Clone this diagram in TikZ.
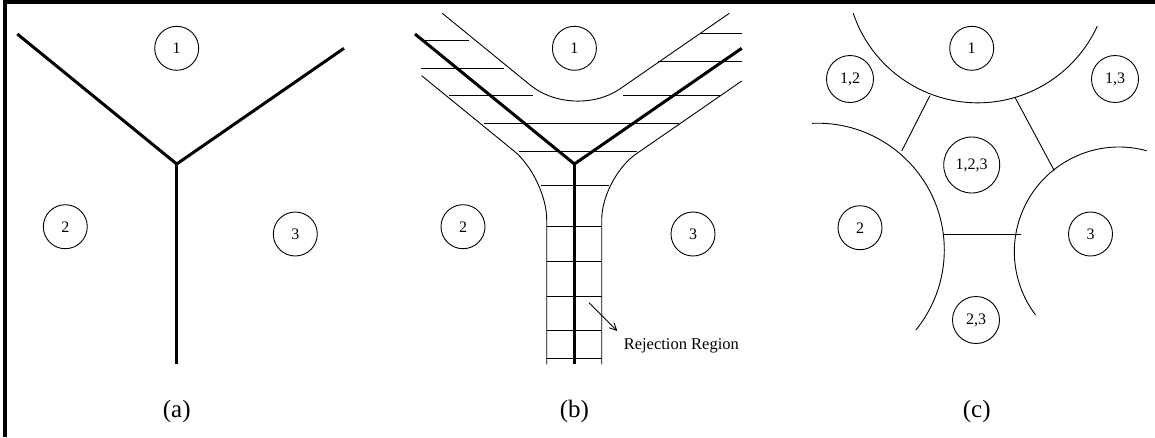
\documentclass[tikz,border=0pt]{standalone}
\usepackage{fontspec}
\setmainfont{Liberation Serif}
\usetikzlibrary{arrows.meta}
\begin{document}
\begin{tikzpicture}[x=1pt,y=-1pt,
  region/.style={circle,draw,line width=0.9pt,inner sep=0pt,minimum size=44pt,font=\fontsize{16}{16}\selectfont},
  pairregion/.style={region,minimum size=47pt},
  tripleregion/.style={region,minimum size=56pt},
  boundary/.style={line width=3pt},
  thinline/.style={line width=0.9pt},
  hatch/.style={line width=0.8pt},
  caption/.style={font=\fontsize{25}{25}\selectfont},
  frameline/.style={line width=3.5pt}
]
\useasboundingbox (0,0) rectangle (1155,437);
% frame
\coordinate (ftl) at (5,1.8);
\coordinate (ftr) at (1155,1.8);
\coordinate (fbl) at (5,437);
\draw[frameline] (fbl) -- (5,0);
\draw[frameline] (3.2,1.8) -- (ftr);

% ---------------- (a)
\coordinate (aJ) at (176.7,164);
\coordinate (aL) at (17.3,34);
\coordinate (aR) at (344,48.3);
\coordinate (aB) at (176.7,364.3);
\draw[boundary] (aL) -- (aJ) -- (aR);
\draw[boundary] (aJ) -- (aB);
\node[region] (a1) at (176.7,48.3) {1};
\node[region] (a2) at (65.3,226.7) {2};
\node[region] (a3) at (295.3,234) {3};
\node[caption] (capa) at (176.7,411) {(a)};

% ---------------- (b)
\coordinate (bJ) at (574.4,164);
\coordinate (bL) at (415,34);
\coordinate (bR) at (741.7,48.3);
\coordinate (bB) at (574.4,364.3);
% rejection band boundaries
\coordinate (ub1) at (442.3,13.3);
\coordinate (ubc) at (573.9,120.7);
\coordinate (ub2) at (729.3,13.3);
\draw[thinline,rounded corners=56pt] (ub1) -- (ubc) -- (ub2);
\coordinate (lb1) at (421.7,75.7);
\coordinate (lbc) at (546.7,177.7);
\coordinate (lb2) at (546.7,364.3);
\draw[thinline,rounded corners=42pt] (lb1) -- (lbc) -- (lb2);
\coordinate (rb1) at (741.7,81);
\coordinate (rbc) at (601.7,177.7);
\coordinate (rb2) at (601.7,364.3);
\draw[thinline,rounded corners=42pt] (rb1) -- (rbc) -- (rb2);
% hatching
\foreach \xa/\xb/\yy in {425/469.3/40.7, 421/504.3/68.3, 449.3/532.7/95.7,
  484.3/678.7/123.3, 519/637.3/151, 541/609/185.7, 546.7/601.7/226.7,
  546.7/601.7/261.7, 546.7/601.7/296, 546.7/601.7/330.7, 546.7/601.7/358.3,
  701/741.7/33.3, 658.3/741.7/61.7, 623.3/720.7/95.7}
  \draw[hatch] (\xa,\yy) -- (\xb,\yy);
\draw[boundary] (bL) -- (bJ) -- (bR);
\draw[boundary] (bJ) -- (bB);
\node[region] (b1) at (574.4,48.3) {1};
\node[region] (b2) at (463,226.7) {2};
\node[region] (b3) at (693,234) {3};
\node[font=\fontsize{16.5}{16.5}\selectfont] (rr) at (681.3,345.5) {Rejection Region};
\coordinate (arrS) at (589,302.7);
\coordinate (arrE) at (617.3,331);
\draw[thinline,-{Straight Barb[length=7pt,width=7pt]}] (arrS) -- (arrE);
\node[caption] (capb) at (574.4,411) {(b)};

% ---------------- (c)
\coordinate (c1c) at (977.8,-28.6);
\coordinate (c2c) at (817.5,250);
\coordinate (c3c) at (1119,251.7);
\draw[thinline] (c1c) ++(161.4:131.4) arc[start angle=161.4,end angle=24.6,radius=131.4];
\draw[thinline] (c2c) ++(-92.6:126.8) arc[start angle=-92.6,end angle=39.1,radius=126.8];
\draw[thinline] (c3c) ++(285.3:104.7) arc[start angle=285.3,end angle=142.9,radius=104.7];
\coordinate (s1a) at (930,95.5);
\coordinate (s1b) at (901.7,151);
\coordinate (s2a) at (1015,97.4);
\coordinate (s2b) at (1054.3,170.7);
\coordinate (s3a) at (944.3,234);
\coordinate (s3b) at (1020.7,234);
\draw[thinline] (s1a) -- (s1b);
\draw[thinline] (s2a) -- (s2b);
\draw[thinline] (s3a) -- (s3b);
\node[region] (c1) at (971.7,48.3) {1};
\node[pairregion] (c12) at (850,79) {1,2};
\node[pairregion] (c13) at (1115,79) {1,3};
\node[tripleregion] (c123) at (971.7,165) {1,2,3};
\node[region] (c2) at (860,227.7) {2};
\node[region] (c3) at (1090.5,234) {3};
\node[pairregion] (c23) at (976,320) {2,3};
\node[caption] (capc) at (976.7,411) {(c)};
\end{tikzpicture}
\end{document}
